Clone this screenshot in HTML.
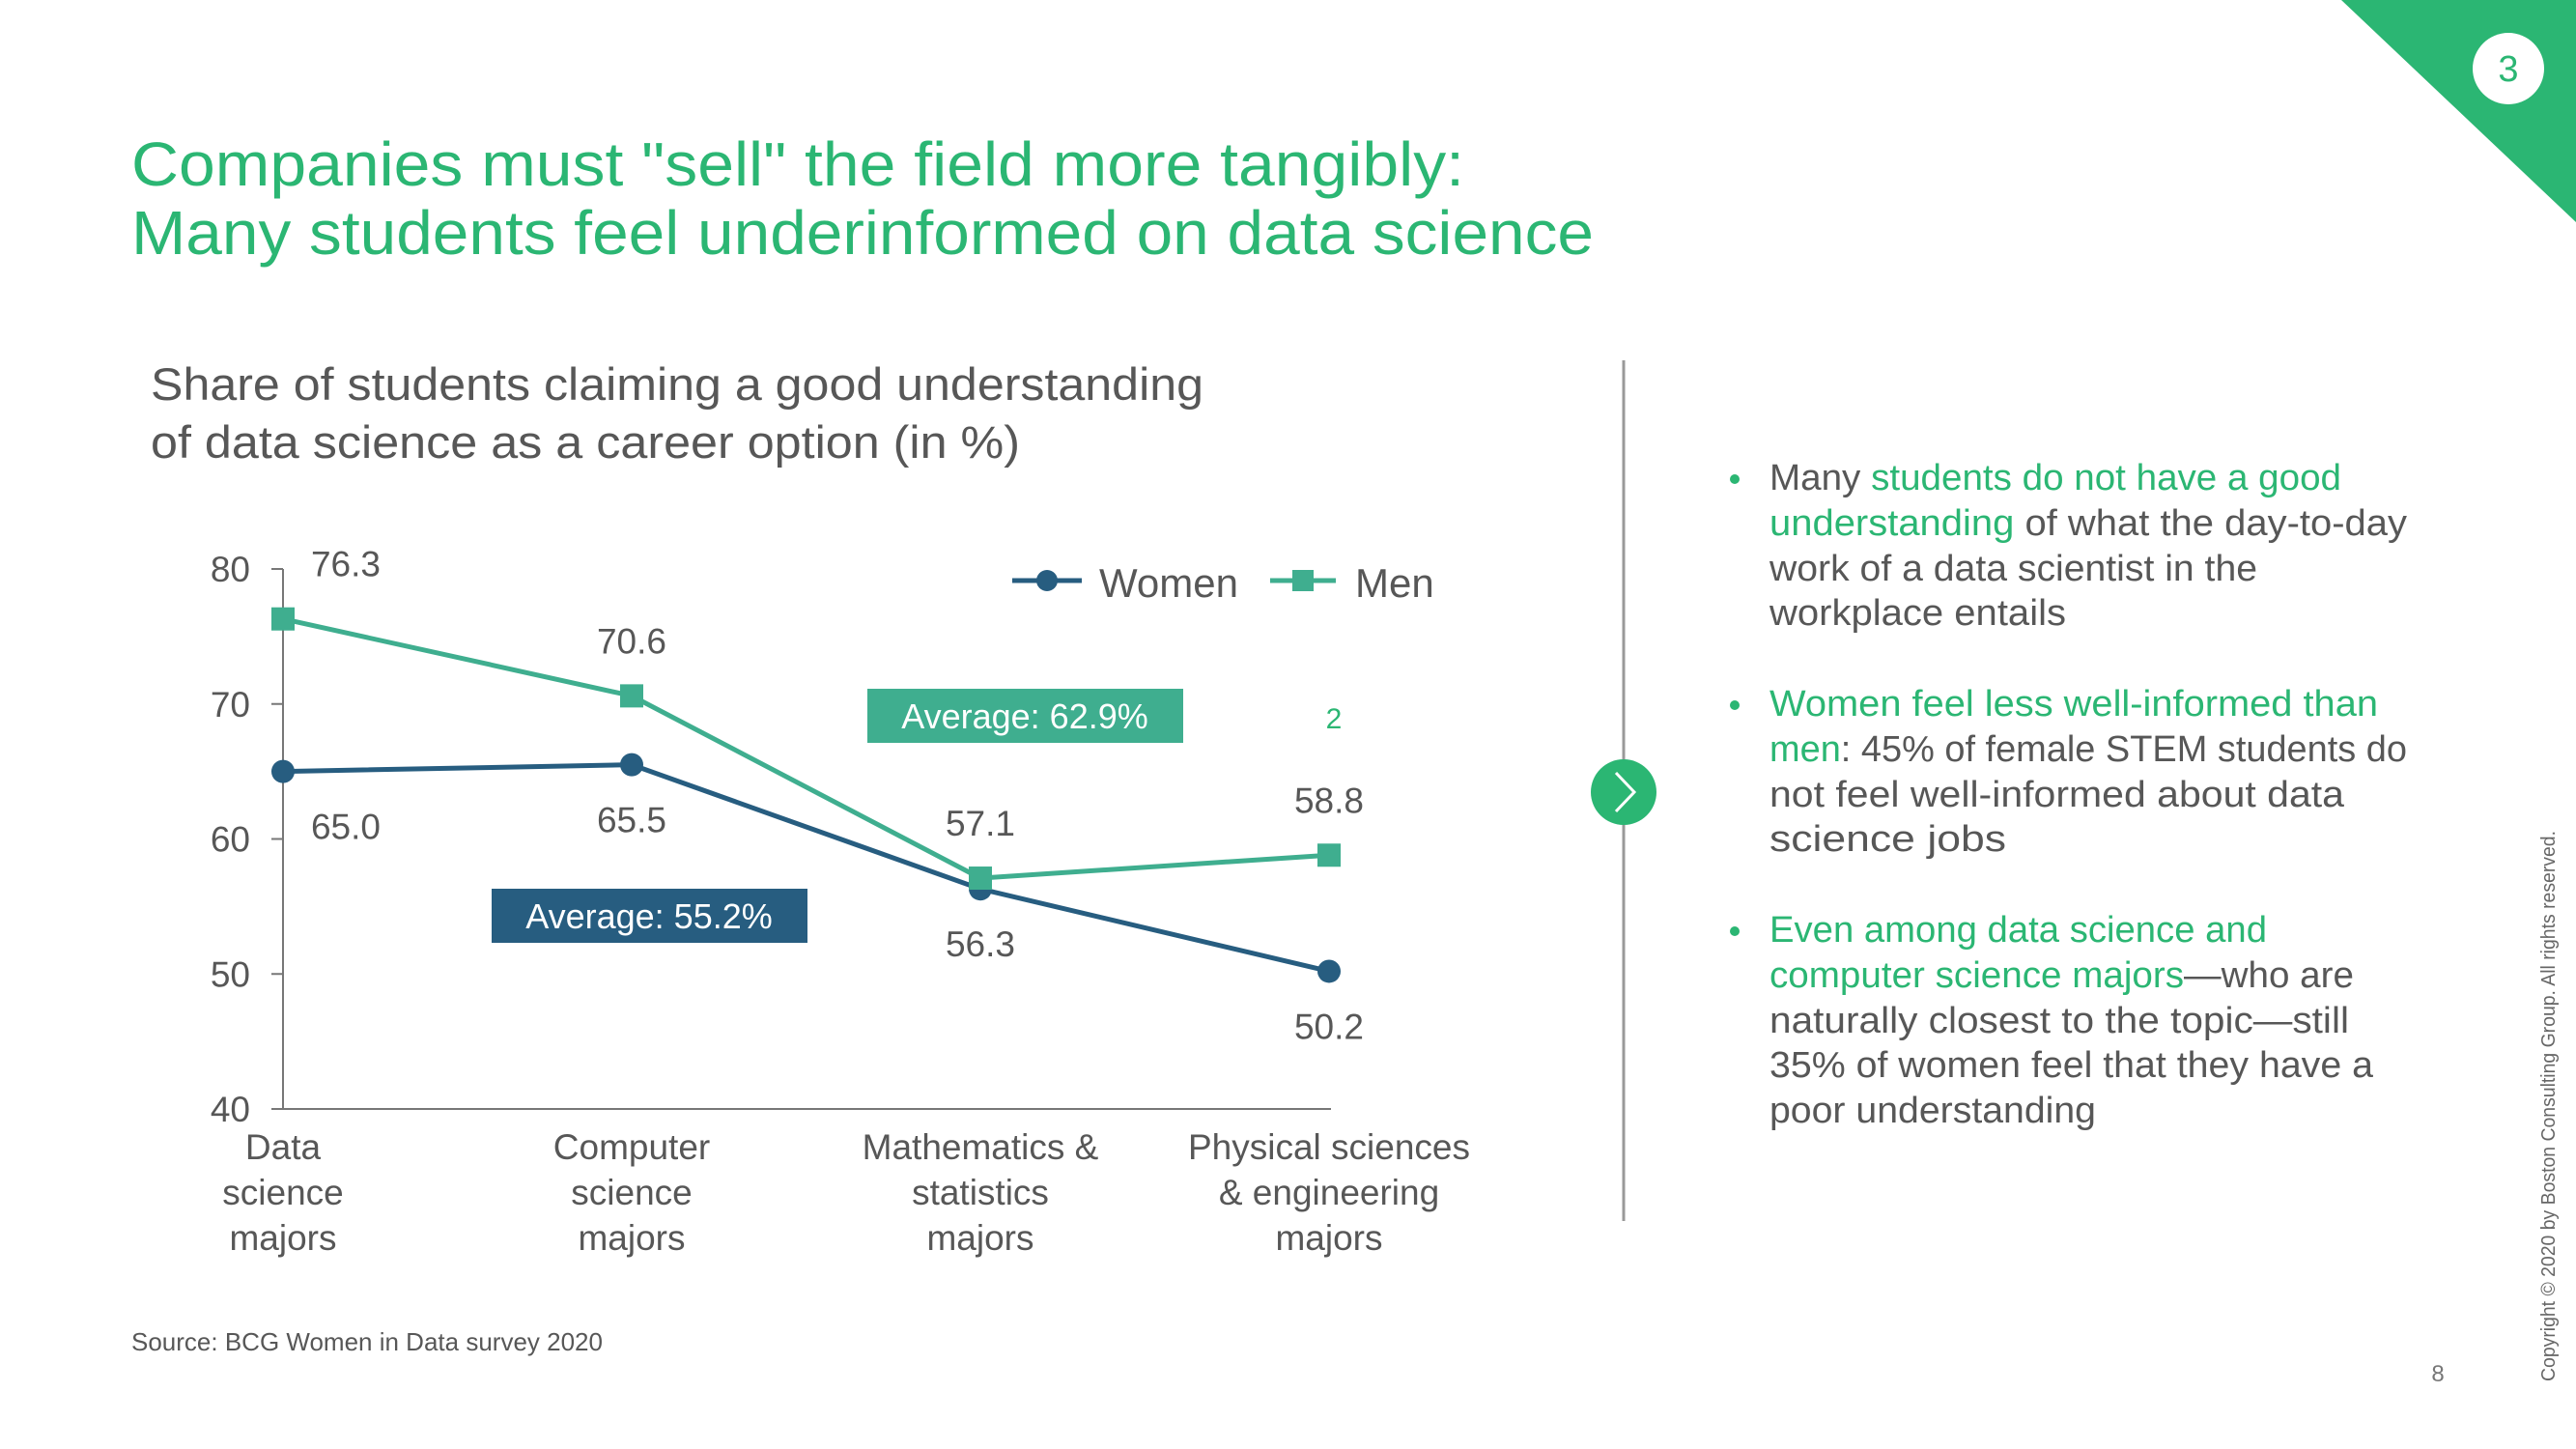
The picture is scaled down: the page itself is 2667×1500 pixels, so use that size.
<!DOCTYPE html>
<html><head><meta charset="utf-8"><style>
html,body{margin:0;padding:0;background:#fff;}
svg{display:block;font-family:"Liberation Sans",sans-serif;}
</style></head><body>
<svg id="s" width="2667" height="1500" viewBox="0 0 2667 1500">
<polygon points="2424,0 2667,0 2667,230" fill="#2bb673"/>
<circle cx="2597" cy="71" r="37" fill="#fff"/>
<text x="2597" y="84" font-size="38" fill="#2bb673" text-anchor="middle">3</text>
<g fill="#2bb673" font-size="64">
<text x="136" y="192" textLength="1380" lengthAdjust="spacingAndGlyphs">Companies must "sell" the field more tangibly:</text>
<text x="136" y="263" textLength="1514" lengthAdjust="spacingAndGlyphs">Many students feel underinformed on data science</text>
</g>
<g fill="#575757" font-size="47">
<text x="156" y="414" textLength="1090" lengthAdjust="spacingAndGlyphs">Share of students claiming a good understanding</text>
<text x="156" y="474" textLength="900" lengthAdjust="spacingAndGlyphs">of data science as a career option (in %)</text>
</g>
<g id="chart"></g>
<text x="136" y="1398" font-size="26" fill="#575757">Source: BCG Women in Data survey 2020</text>
<line x1="1681" y1="373" x2="1681" y2="1264" stroke="#999" stroke-width="3"/>
<circle cx="1681" cy="820" r="34" fill="#2bb673"/>
<polyline points="1673,800 1692,820 1673,840" fill="none" stroke="#fff" stroke-width="3"/>
<g font-size="38" fill="#575757">
<circle cx="1796" cy="496" r="5" fill="#2bb673"/>
<text x="1832" y="507" textLength="592" lengthAdjust="spacingAndGlyphs">Many <tspan fill="#2bb673">students do not have a good</tspan></text>
<text x="1832" y="554" textLength="660" lengthAdjust="spacingAndGlyphs"><tspan fill="#2bb673">understanding</tspan> of what the day-to-day</text>
<text x="1832" y="601" textLength="505" lengthAdjust="spacingAndGlyphs">work of a data scientist in the</text>
<text x="1832" y="647" textLength="307" lengthAdjust="spacingAndGlyphs">workplace entails</text>
<circle cx="1796" cy="730" r="5" fill="#2bb673"/>
<text x="1832" y="741" textLength="630" lengthAdjust="spacingAndGlyphs" fill="#2bb673">Women feel less well-informed than</text>
<text x="1832" y="788" textLength="660" lengthAdjust="spacingAndGlyphs"><tspan fill="#2bb673">men</tspan>: 45% of female STEM students do</text>
<text x="1832" y="835" textLength="595" lengthAdjust="spacingAndGlyphs">not feel well-informed about data</text>
<text x="1832" y="881" textLength="245" lengthAdjust="spacingAndGlyphs">science jobs</text>
<circle cx="1796" cy="964" r="5" fill="#2bb673"/>
<text x="1832" y="975" textLength="515" lengthAdjust="spacingAndGlyphs" fill="#2bb673">Even among data science and</text>
<text x="1832" y="1022" textLength="605" lengthAdjust="spacingAndGlyphs"><tspan fill="#2bb673">computer science majors</tspan>—who are</text>
<text x="1832" y="1069" textLength="600" lengthAdjust="spacingAndGlyphs">naturally closest to the topic—still</text>
<text x="1832" y="1115" textLength="625" lengthAdjust="spacingAndGlyphs">35% of women feel that they have a</text>
<text x="1832" y="1162" textLength="338" lengthAdjust="spacingAndGlyphs">poor understanding</text>
</g>
<text x="2524" y="1430" font-size="24" fill="#777" text-anchor="middle">8</text>
<text transform="translate(2645,1430) rotate(-90)" font-size="20" fill="#666" textLength="570" lengthAdjust="spacingAndGlyphs">Copyright © 2020 by Boston Consulting Group. All rights reserved.</text>
</svg>
<script>
const categories = [["Data","science","majors"],["Computer","science","majors"],["Mathematics &","statistics","majors"],["Physical sciences","& engineering","majors"]];
const women = [65.0, 65.5, 56.3, 50.2];
const men = [76.3, 70.6, 57.1, 58.8];
const yTicks = [40, 50, 60, 70, 80];
const averages = ["Average: 55.2%", "Average: 62.9%"];

const NS = "http://www.w3.org/2000/svg";
const g = document.getElementById("chart");
const X0 = 293, XSTEP = 361, Y40 = 1148, Y80 = 589;
const xs = i => X0 + i * XSTEP;
const ys = v => Y40 - (v - 40) / 40 * (Y40 - Y80);
function mk(tag, attrs, parent) {
  const e = document.createElementNS(NS, tag);
  for (const k in attrs) e.setAttribute(k, attrs[k]);
  (parent || g).appendChild(e);
  return e;
}
const gray = "#575757", WC = "#275d80", MC = "#3fae8f";
// axes
let ax = mk("line", {x1: X0, y1: ys(80), x2: X0, y2: Y40, stroke: "#777", "stroke-width": 2});


let bx = mk("line", {x1: X0 - 12, y1: Y40, x2: xs(3) + 2, y2: Y40, stroke: "#777", "stroke-width": 2});


yTicks.forEach(v => {
  const t = mk("line", {x1: X0 - 12, y1: ys(v), x2: X0, y2: ys(v), stroke: "#777", "stroke-width": 2});
  
  
  const l = mk("text", {x: 259, y: ys(v) + 13, "font-size": 37, fill: gray, "text-anchor": "end"});
  l.textContent = v;
  
  
});
categories.forEach((c, i) => {
  c.forEach((line, j) => {
    const t = mk("text", {x: xs(i), y: 1200 + j * 47, "font-size": 37, fill: gray, "text-anchor": "middle"});
    t.textContent = line;
    
    
  });
});
// average boxes
const avgBox = [[509, 920, WC], [898, 713, MC]];
averages.forEach((a, i) => {
  const [bx0, by0, col] = avgBox[i];
  const r = mk("rect", {x: bx0, y: by0, width: 327, height: 56, fill: col});
  
  
  const t = mk("text", {x: bx0 + 163, y: by0 + 41, "font-size": 36, fill: "#fff", "text-anchor": "middle"});
  t.textContent = a;
  
  
});
const two = mk("text", {x: 1381, y: 754, "font-size": 30, fill: "#2bb673", "text-anchor": "middle"});
two.textContent = "2";


// series
function series(vals, col, name, square, dir) {
  const p = mk("polyline", {points: vals.map((v, i) => xs(i) + "," + ys(v)).join(" "), fill: "none", stroke: col, "stroke-width": 5});
  
  
  vals.forEach((v, i) => {
    const m = square ? mk("rect", {x: xs(i) - 12, y: ys(v) - 12, width: 24, height: 24, fill: col})
                     : mk("circle", {cx: xs(i), cy: ys(v), r: 12, fill: col});
    
    
    const dx = i === 0 ? 65 : 0;
    const t = mk("text", {x: xs(i) + dx, y: ys(v) + dir * 57 + 13, "font-size": 37, fill: gray, "text-anchor": "middle"});
    t.textContent = v.toFixed(1);
    
    
  });
}
series(women, WC, "women", false, 1);
series(men, MC, "men", true, -1);
// legend
const lw = mk("line", {x1: 1048, y1: 601, x2: 1120, y2: 601, stroke: WC, "stroke-width": 5});


const lwm = mk("circle", {cx: 1084, cy: 601, r: 11, fill: WC});


const lwt = mk("text", {x: 1138, y: 618, "font-size": 42, fill: gray});
lwt.textContent = "Women";


const lm = mk("line", {x1: 1315, y1: 601, x2: 1383, y2: 601, stroke: MC, "stroke-width": 5});


const lmm = mk("rect", {x: 1338, y: 590, width: 22, height: 22, fill: MC});


const lmt = mk("text", {x: 1403, y: 618, "font-size": 42, fill: gray});
lmt.textContent = "Men";


</script>
</body></html>
